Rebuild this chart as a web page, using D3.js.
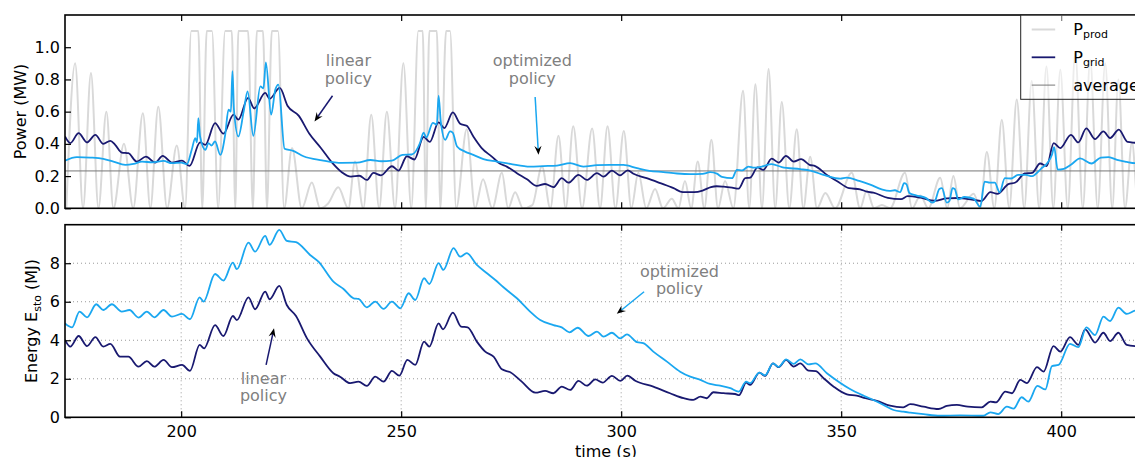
<!DOCTYPE html>
<html>
<head>
<meta charset="utf-8">
<script src="https://cdn.jsdelivr.net/npm/d3@7"></script>
<style>
  body { margin: 0; background: #fff; }
  svg { display: block; font-family: "DejaVu Sans", sans-serif; }
</style>
</head>
<body>
<div id="showBox"></div>
<script>
// time (s) / value pairs
const prodPower = [
  [173.9,0],[175.9,0.90],[177.7,0],[179.5,0.84],[181.2,0],[183.0,0.60],[184.6,0],[187.0,0.40],[189.1,0],
  [191.3,0.59],[193.0,0],[194.8,0.63],[196.8,0],[199.0,0.39],[200.9,0],[202.3,1.1],[203.9,1.1],[204.8,0],
  [205.8,1.1],[207.0,1.1],[208.4,0],[210.0,1.1],[211.5,1.1],[212.3,0],[213.0,1.1],[215.2,1.1],[216.3,0],
  [217.2,1.1],[218.6,1.1],[219.5,0],[220.6,1.1],[222.0,1.1],[223.4,0],[225.2,0.375],[227.4,0],[229.7,0.16],
  [231.6,0],[233.4,0.03],[235.7,0.13],[238.0,0],[239.5,0.29],[241.4,0],[243.2,0.58],[245.0,0],[246.75,0.60],
  [248.6,0],[250.5,0.90],[252.3,0],[253.9,1.1],[254.9,1.1],[255.6,0],[256.4,1.1],[258.1,1.1],[258.9,0],
  [260.2,1.1],[261.1,1.1],[262.5,0],[264.9,0.49],[266.8,0],[268.6,0.18],[270.7,0],[272.9,0.22],[274.3,0],
  [275.9,0.10],[277.7,0],[279.8,0.02],[282.0,0.26],[283.9,0],[285.75,0.45],[287.4,0],[289.1,0.51],[291.1,0],
  [293.4,0.495],[295.2,0],[296.9,0.51],[298.7,0],[300.6,0.48],[302.3,0],[303.9,0.22],[305.7,0],[307.7,0.12],
  [309.5,0],[311.5,0.06],[313.0,0],[314.5,0.17],[315.9,0],[317.4,0.29],[318.9,0],[320.5,0.425],[322.0,0],
  [323.6,0.17],[325.5,0],[327.7,0.73],[329.1,0],[330.5,0.77],[332.0,0],[333.5,0.865],[335.0,0],[336.5,0.66],
  [338.2,0],[339.9,0.49],[341.4,0],[342.95,0.32],[344.5,0],[346.4,0.095],[348.6,0],[352.4,0.22],[354.3,0],
  [355.8,0.11],[357.5,0],[359.25,0.02],[361.1,0],[364.5,0.22],[366.1,0],[368.0,0.08],[369.8,0],[372.5,0.19],
  [374.1,0],[375.5,0.20],[377.0,0],[380.1,0.09],[381.6,0],[383.1,0.35],[384.8,0],[386.5,0.55],[388.2,0],
  [389.9,0.675],[391.6,0],[393.3,0.79],[395.0,0],[396.65,0.88],[398.2,0],[399.8,0.86],[401.5,0],[403.2,0.965],
  [404.9,0],[406.6,0.92],[408.3,0],[410.0,0.90],[411.6,0],[413.0,0.80],[414.5,0],[416.1,0.41],[417.5,0],[419.1,0.30]
];

const gridLinear = [
  [173.6,0.446],[174.8,0.405],[176.7,0.467],[178.6,0.409],[180.5,0.456],[182.3,0.40],[183.9,0.419],[185.0,0.394],
  [186.5,0.346],[188.0,0.342],[189.9,0.29],[192.0,0.321],[194.1,0.284],[195.8,0.326],[197.9,0.284],[200.2,0.296],
  [201.9,0.263],[204.3,0.409],[205.5,0.394],[207.7,0.529],[209.6,0.463],[211.9,0.581],[213.0,0.55],[215.2,0.685],
  [216.6,0.62],[219.1,0.716],[220.1,0.68],[222.4,0.747],[224.2,0.635],[226.7,0.575],[229.1,0.465],[231.8,0.373],
  [234.4,0.28],[236.5,0.224],[238.6,0.197],[240.5,0.202],[242.2,0.176],[243.7,0.22],[245.4,0.205],[247.9,0.261],
  [249.4,0.234],[251.3,0.323],[253.0,0.303],[255.1,0.443],[256.5,0.412],[258.5,0.533],[259.8,0.498],[261.75,0.595],
  [263.4,0.525],[264.9,0.512],[266.4,0.446],[268.3,0.374],[270.6,0.321],[272.5,0.276],[274.0,0.259],[276.3,0.218],
  [278.6,0.18],[280.8,0.139],[282.7,0.151],[284.6,0.131],[286.5,0.187],[288.0,0.159],[290.3,0.207],[292.2,0.176],
  [294.5,0.218],[296.0,0.197],[297.9,0.234],[299.7,0.205],[301.5,0.236],[302.8,0.214],[305.8,0.187],[308.9,0.156],
  [311.9,0.125],[314.0,0.10],[316.6,0.10],[318.5,0.11],[320.4,0.132],[321.7,0.137],[323.3,0.134],[325.2,0.128],
  [326.7,0.122],[328.2,0.187],[329.3,0.19],[331.0,0.254],[332.3,0.238],[334.2,0.308],[335.8,0.284],[337.45,0.326],
  [339.2,0.29],[340.9,0.305],[342.8,0.27],[344.1,0.262],[346.75,0.207],[349.0,0.17],[351.8,0.125],[354.3,0.118],
  [355.8,0.103],[357.3,0.097],[360.6,0.065],[363.6,0.057],[365.1,0.075],[368.0,0.066],[371.2,0.047],[374.0,0.062],
  [376.6,0.064],[379.7,0.054],[381.9,0.045],[383.9,0.10],[385.5,0.09],[388.0,0.15],[389.6,0.16],[391.7,0.216],
  [393.4,0.22],[395.2,0.278],[396.7,0.262],[398.3,0.405],[399.8,0.374],[402.2,0.456],[403.9,0.409],[405.7,0.496],
  [407.7,0.43],[409.6,0.477],[411.1,0.436],[413.1,0.488],[415.1,0.412],[416.8,0.407],[419.5,0.40]
];

const gridOptim = [
  [173.6,0.296],[176.3,0.318],[179.3,0.315],[182.3,0.307],[184.6,0.29],[187.3,0.27],[189.2,0.276],[191.1,0.29],
  [193.5,0.285],[196.0,0.294],[197.9,0.28],[200.0,0.283],[201.3,0.274],[202.4,0.363],[203.2,0.436],[203.6,0.41],
  [203.9,0.56],[204.3,0.446],[205.5,0.363],[206.2,0.405],[206.9,0.39],[207.7,0.415],[208.9,0.332],[210.0,0.456],
  [210.75,0.612],[211.3,0.60],[211.65,0.851],[212.0,0.612],[213.0,0.446],[214.2,0.60],[215.1,0.726],[216.4,0.45],
  [218.0,0.757],[218.7,0.745],[219.25,0.905],[220.45,0.581],[221.4,0.737],[222.1,0.768],[223.5,0.37],[225.3,0.358],
  [227.8,0.323],[232.0,0.298],[236.5,0.282],[240.0,0.283],[243.0,0.30],[245.5,0.292],[247.9,0.296],[250.3,0.332],
  [252.4,0.334],[254.3,0.407],[255.1,0.47],[255.7,0.44],[257.2,0.53],[258.1,0.519],[258.5,0.70],[259.0,0.539],
  [260.0,0.425],[261.1,0.477],[261.7,0.47],[262.7,0.384],[264.5,0.352],[266.4,0.332],[268.7,0.305],[271.75,0.29],
  [274.8,0.276],[279.3,0.259],[282.3,0.262],[285.4,0.265],[288.4,0.28],[291.4,0.259],[294.5,0.268],[297.5,0.27],
  [300.5,0.269],[303.6,0.249],[306.4,0.233],[309.6,0.225],[312.7,0.216],[315.7,0.212],[318.5,0.214],[320.2,0.224],
  [321.75,0.215],[322.9,0.195],[325.2,0.187],[326.3,0.238],[327.5,0.235],[328.9,0.259],[330.2,0.252],[332.0,0.259],
  [334.2,0.274],[336.5,0.256],[340.7,0.243],[343.0,0.234],[346.4,0.204],[349.8,0.184],[351.2,0.19],[354.1,0.17],
  [356.6,0.147],[359.2,0.118],[361.0,0.108],[362.2,0.112],[363.4,0.10],[364.3,0.156],[364.8,0.15],[365.5,0.095],
  [367.0,0.08],[369.2,0.065],[370.75,0.035],[371.4,0.05],[372.3,0.12],[372.9,0.125],[374.0,0.035],[374.6,0.045],
  [375.3,0.125],[375.8,0.12],[376.6,0.055],[378.0,0.07],[380.1,0.06],[381.6,0.01],[382.6,0.166],[383.8,0.16],
  [384.9,0.16],[386.0,0.10],[387.2,0.187],[388.6,0.185],[390.2,0.207],[392.0,0.207],[393.4,0.20],[395.4,0.245],
  [396.8,0.28],[397.9,0.332],[398.4,0.38],[399.2,0.24],[400.6,0.245],[402.2,0.27],[404.3,0.31],[406.9,0.278],
  [409.0,0.315],[410.8,0.318],[412.7,0.30],[414.9,0.288],[416.8,0.28],[419.5,0.278]
];

const averagePower = 0.232;

const energyLinear = [
  [173.6,4.02],[174.8,3.67],[176.7,4.22],[178.6,3.7],[180.5,4.16],[182.3,3.67],[183.9,3.81],[186.1,3.15],
  [188.0,3.15],[190.3,2.63],[192.2,2.92],[193.9,2.63],[196.0,2.98],[197.9,2.6],[200.2,2.72],[202.0,2.41],
  [204.2,3.76],[205.2,3.58],[207.7,4.79],[209.6,4.22],[211.75,5.26],[212.65,5.05],[215.3,6.23],[216.8,5.61],
  [219.1,6.53],[220.1,6.13],[222.3,6.82],[224.0,5.83],[226.1,5.26],[228.6,4.1],[231.6,3.15],[234.6,2.29],
  [236.1,2.11],[238.4,1.77],[240.3,1.85],[242.2,1.63],[244.1,2.11],[246.0,1.85],[247.9,2.41],[249.6,2.16],
  [251.4,2.98],[253.2,2.72],[255.2,3.93],[256.4,3.67],[258.5,4.88],[259.5,4.57],[261.75,5.43],[263.6,4.71],
  [265.1,4.67],[267.2,3.93],[269.1,3.41],[271.0,3.15],[272.9,2.49],[274.8,2.34],[277.4,1.85],[280.5,1.28],
  [282.7,1.37],[284.6,1.25],[286.5,1.59],[288.4,1.42],[290.3,1.89],[292.2,1.64],[294.1,1.97],[295.8,1.8],
  [297.9,2.15],[299.8,1.89],[301.4,2.16],[303.2,1.9],[307.3,1.59],[311.1,1.25],[314.2,0.99],[316.4,0.9],
  [318.0,1.07],[319.4,0.99],[320.95,1.3],[323.25,1.25],[325.9,1.21],[326.8,1.15],[328.4,1.8],[329.3,1.68],
  [331.4,2.32],[332.7,2.15],[334.5,2.8],[335.8,2.6],[337.5,2.98],[339.2,2.63],[340.7,2.8],[342.6,2.42],
  [344.2,2.4],[346.0,2.03],[348.3,1.59],[351.3,1.19],[353.5,1.12],[355.5,0.99],[358.1,0.85],[361.1,0.6],
  [364.1,0.52],[365.7,0.68],[368.7,0.55],[372.1,0.43],[374.0,0.59],[376.3,0.64],[378.8,0.55],[381.9,0.52],
  [383.9,0.81],[385.2,0.78],[387.3,1.33],[388.8,1.25],[390.7,1.94],[392.2,1.77],[394.5,2.6],[396.0,2.37],
  [398.25,3.7],[399.8,3.41],[402.0,4.16],[403.9,3.76],[405.45,4.57],[407.7,3.88],[409.6,4.39],[411.1,3.96],
  [413.0,4.39],[414.9,3.76],[416.8,3.7],[419.5,3.68]
];

const energyOptim = [
  [173.6,4.88],[175.2,4.67],[176.9,5.49],[178.6,5.19],[180.7,5.87],[182.3,5.57],[184.25,5.87],[186.5,5.49],
  [188.25,5.57],[190.3,5.18],[192.2,5.49],[193.9,5.19],[196.0,5.57],[197.9,5.23],[200.2,5.37],[202.0,5.09],
  [204.2,6.23],[205.1,6.01],[207.7,7.44],[209.6,7.1],[211.75,8.03],[212.65,7.69],[215.3,9.07],[216.8,8.6],
  [219.1,9.42],[220.1,8.95],[222.3,9.73],[224.0,9.16],[226.1,9.09],[229.3,8.43],[231.2,8.08],[234.6,7.04],
  [236.9,6.66],[239.2,6.18],[240.3,6.15],[242.2,5.71],[244.1,6.01],[246.0,5.63],[247.9,6.01],[249.8,5.66],
  [251.7,6.44],[253.2,6.09],[255.2,7.22],[256.4,6.92],[258.5,8.0],[259.6,7.65],[261.9,8.78],[263.4,8.34],
  [264.9,8.52],[267.2,7.91],[269.5,7.48],[271.4,7.13],[273.25,6.75],[276.3,6.18],[279.3,5.49],[281.6,5.05],
  [284.6,4.79],[286.5,4.67],[288.25,4.41],[290.1,4.65],[292.6,4.22],[294.5,4.45],[296.0,4.19],[297.9,4.39],
  [299.8,4.1],[301.3,4.31],[303.6,3.9],[305.0,3.85],[307.3,3.41],[310.4,2.89],[313.4,2.37],[315.7,2.11],
  [318.0,1.94],[320.2,1.73],[322.5,1.64],[324.8,1.51],[326.7,1.33],[328.4,1.85],[329.3,1.77],[331.4,2.32],
  [332.7,2.18],[334.5,2.8],[335.8,2.62],[337.5,3.01],[339.2,2.77],[340.7,3.01],[342.6,2.75],[344.1,2.8],
  [346.75,2.29],[349.4,1.85],[352.0,1.47],[355.1,1.12],[357.3,0.9],[359.6,0.64],[361.9,0.38],[364.1,0.29],
  [365.7,0.24],[368.7,0.16],[372.5,0.08],[377.0,0.1],[382.3,0.08],[383.9,0.26],[385.7,0.17],[387.65,0.55],
  [389.2,0.45],[391.0,1.04],[392.5,0.81],[394.6,1.63],[396.4,1.45],[397.9,2.66],[399.4,2.72],[402.0,3.81],
  [403.9,3.64],[405.7,4.67],[407.7,4.27],[409.6,5.23],[411.1,5.0],[413.0,5.69],[414.9,5.37],[416.8,5.54],[419.5,5.6]
];

const timeTicks = [200, 250, 300, 350, 400];
const powerTicks = [0, 0.2, 0.4, 0.6, 0.8, 1.0];
const energyTicks = [0, 2, 4, 6, 8];

// text + arrow (tail -> head) in data units
const powerNotes = [
  {lines: ["linear", "policy"], t: 238.0, v: 0.882, from: [234.4, 0.699], to: [230.3, 0.539], color: "#191970"},
  {lines: ["optimized", "policy"], t: 279.8, v: 0.882, from: [280.45, 0.691], to: [281.2, 0.332], color: "#1aa7f0"}
];
const energyNotes = [
  {lines: ["optimized", "policy"], t: 313.25, v: 7.30, from: [305.2, 6.52], to: [299.0, 5.37], color: "#1aa7f0"},
  {lines: ["linear", "policy"], t: 218.7, v: 1.73, from: [219.3, 2.72], to: [221.1, 4.62], color: "#191970"}
];

const W = 1135, H = 457;
const navy = "#191970", sky = "#1aa7f0", prodGray = "#d9d9d9";

const x = d3.scaleLinear().domain([173.6, 419.5]).range([65, 1147]);
const yP = d3.scaleLinear().domain([0, 1.2]).range([208.3, 15]);
const yE = d3.scaleLinear().domain([0, 10]).range([417.3, 224.7]);

const svg = d3.select("#showBox").append("svg").attr("width", W).attr("height", H);
const defs = svg.append("defs");

function drawPanel(y, id) {
    const [y1, y0] = y.range();
    const [x0, x1] = x.range();
    defs.append("clipPath").attr("id", id)
        .append("rect").attr("x", x0).attr("y", y0).attr("width", x1 - x0).attr("height", y1 - y0);
    return svg.append("g").attr("clip-path", `url(#${id})`);
}

function line(y, curve) {
    return d3.line().x(d => x(d[0])).y(d => y(d[1])).curve(curve || d3.curveMonotoneX);
}

function frame(y, yTicks, fmt, showX) {
    const [y1, y0] = y.range();
    const [x0, x1] = x.range();
    const g = svg.append("g").attr("font-size", 16).attr("fill", "#000");

    g.append("g").attr("transform", `translate(0,${y1})`)
        .call(d3.axisBottom(x).tickValues(timeTicks).tickSize(-6).tickPadding(8.5)
            .tickFormat(showX ? d3.format("d") : ""));
    g.append("g").attr("transform", `translate(0,${y0})`)
        .call(d3.axisTop(x).tickValues(timeTicks).tickSize(-6).tickFormat(""));
    g.append("g").attr("transform", `translate(${x0},0)`)
        .call(d3.axisLeft(y).tickValues(yTicks).tickSize(-6).tickPadding(5).tickFormat(fmt));

    g.selectAll(".domain").remove();
    g.selectAll(".tick line").attr("stroke", "#000").attr("stroke-width", 1.2);
    g.selectAll(".tick text").attr("font-family", "DejaVu Sans").attr("font-size", 16).attr("fill", "#000");

    svg.append("rect").attr("x", x0).attr("y", y0).attr("width", x1 - x0).attr("height", y1 - y0)
        .attr("fill", "none").attr("stroke", "#000").attr("stroke-width", 1.6);
}

function arrow(g, n, y) {
    const [ax, ay] = [x(n.from[0]), y(n.from[1])];
    const [bx, by] = [x(n.to[0]), y(n.to[1])];
    const ang = Math.atan2(by - ay, bx - ax);
    const len = 9, half = 3.6;
    g.append("line").attr("x1", ax).attr("y1", ay)
        .attr("x2", bx - Math.cos(ang) * len * 0.6).attr("y2", by - Math.sin(ang) * len * 0.6)
        .attr("stroke", n.color).attr("stroke-width", 1.5);
    const bxp = bx - Math.cos(ang) * len, byp = by - Math.sin(ang) * len;
    const pts = [
        [bx, by],
        [bxp - Math.sin(ang) * half, byp + Math.cos(ang) * half],
        [bx - Math.cos(ang) * len * 0.65, by - Math.sin(ang) * len * 0.65],
        [bxp + Math.sin(ang) * half, byp - Math.cos(ang) * half]
    ];
    g.append("path").attr("d", "M" + pts.map(p => p.join(",")).join("L") + "Z").attr("fill", "#000");

    const t = g.append("text").attr("x", x(n.t)).attr("y", y(n.v))
        .attr("text-anchor", "middle").attr("font-size", 16).attr("fill", "#808080");
    n.lines.forEach((s, i) => t.append("tspan").attr("x", x(n.t)).attr("dy", i ? 17.5 : 0).text(s));
}

// top panel: power
const topG = drawPanel(yP, "clipTop");
topG.append("path").datum(prodPower).attr("d", line(yP))
    .attr("fill", "none").attr("stroke", prodGray).attr("stroke-width", 2);
topG.append("line").attr("x1", x.range()[0]).attr("x2", x.range()[1])
    .attr("y1", yP(averagePower)).attr("y2", yP(averagePower))
    .attr("stroke", "#777").attr("stroke-width", 1);
topG.append("path").datum(gridLinear).attr("d", line(yP))
    .attr("fill", "none").attr("stroke", navy).attr("stroke-width", 1.8);
topG.append("path").datum(gridOptim).attr("d", line(yP))
    .attr("fill", "none").attr("stroke", sky).attr("stroke-width", 1.8);

frame(yP, powerTicks, d3.format(".1f"), false);

// bottom panel: stored energy
const botG = drawPanel(yE, "clipBot");
energyTicks.filter(v => v > 0).forEach(v => {
    botG.append("line").attr("x1", x.range()[0]).attr("x2", x.range()[1])
        .attr("y1", yE(v)).attr("y2", yE(v))
        .attr("stroke", "#999").attr("stroke-width", 1).attr("stroke-dasharray", "1,3");
});
timeTicks.forEach(t => {
    botG.append("line").attr("x1", x(t)).attr("x2", x(t))
        .attr("y1", yE.range()[0]).attr("y2", yE.range()[1])
        .attr("stroke", "#999").attr("stroke-width", 1).attr("stroke-dasharray", "1,3");
});
botG.append("path").datum(energyLinear).attr("d", line(yE))
    .attr("fill", "none").attr("stroke", navy).attr("stroke-width", 1.8);
botG.append("path").datum(energyOptim).attr("d", line(yE))
    .attr("fill", "none").attr("stroke", sky).attr("stroke-width", 1.8);

frame(yE, energyTicks, d3.format("d"), true);

// annotations
const notes = svg.append("g").attr("font-family", "DejaVu Sans");
powerNotes.forEach(n => arrow(notes, n, yP));
energyNotes.forEach(n => arrow(notes, n, yE));

// axis titles
svg.append("text").attr("transform", "translate(26,111.5) rotate(-90)")
    .attr("text-anchor", "middle").attr("font-size", 16).text("Power (MW)");
const eLab = svg.append("text").attr("transform", "translate(37,321) rotate(-90)")
    .attr("text-anchor", "middle").attr("font-size", 16);
eLab.append("tspan").text("Energy E");
eLab.append("tspan").attr("font-size", 11).attr("dy", 4).text("sto");
eLab.append("tspan").attr("dy", -4).text(" (MJ)");
svg.append("text").attr("x", (x.range()[0] + x.range()[1]) / 2).attr("y", 457)
    .attr("text-anchor", "middle").attr("font-size", 16).text("time (s)");

// legend
const legendItems = [
    {main: "P", sub: "prod", color: prodGray, width: 2},
    {main: "P", sub: "grid", color: navy, width: 1.8},
    {main: "average", sub: "", color: "#777", width: 1}
];
const leg = svg.append("g").attr("transform", "translate(1020.7,15)");
leg.append("rect").attr("width", 200).attr("height", 84.3)
    .attr("fill", "#fff").attr("fill-opacity", 0.5).attr("stroke", "#222").attr("stroke-width", 1);
legendItems.forEach((d, i) => {
    const cy = 14.5 + i * 27.8;
    leg.append("line").attr("x1", 11).attr("x2", 34.5).attr("y1", cy).attr("y2", cy)
        .attr("stroke", d.color).attr("stroke-width", d.width);
    const t = leg.append("text").attr("x", 52.6).attr("y", cy + 5.5).attr("font-size", 16);
    t.append("tspan").text(d.main);
    if (d.sub) t.append("tspan").attr("font-size", 11).attr("dy", 3).text(d.sub);
});
</script>
</body>
</html>
